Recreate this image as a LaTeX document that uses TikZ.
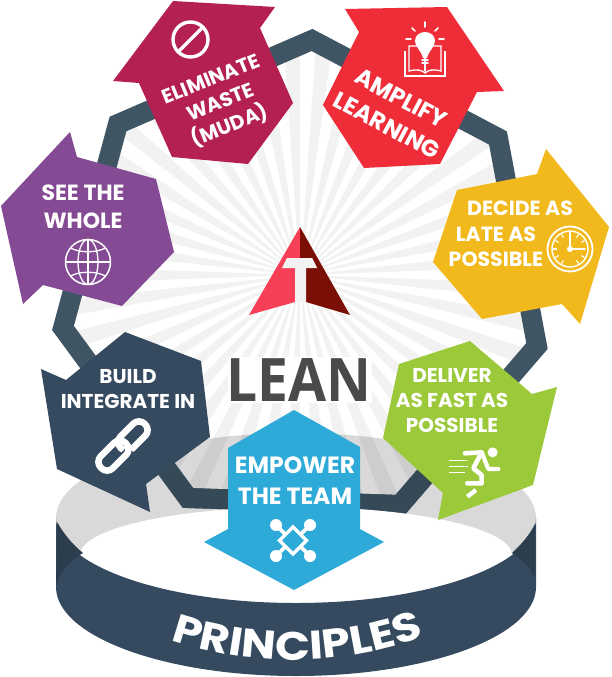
\documentclass[tikz,border=0pt]{standalone}
\usepackage{fontspec}
\usetikzlibrary{decorations.text}
\newfontfamily\popf{Poppins}
\newfontfamily\popw[FakeStretch=1.15]{Poppins}
\newfontfamily\leanf[FakeStretch=0.92]{Open Sans}
\definecolor{cCrim}{HTML}{B52052}
\definecolor{cPurp}{HTML}{844B94}
\definecolor{cRed}{HTML}{EF2D39}
\definecolor{cYel}{HTML}{F2B91C}
\definecolor{cGrn}{HTML}{9BC93A}
\definecolor{cBlu}{HTML}{2EAAD8}
\definecolor{cNavy}{HTML}{354A5E}
\definecolor{cNavyD}{HTML}{2C3D4D}
\definecolor{cRing}{HTML}{3F5564}
\definecolor{cRingD}{HTML}{364957}
\definecolor{cDisc}{HTML}{D9D9D9}
\definecolor{cLogoL}{HTML}{F73F58}
\definecolor{cLogoR}{HTML}{7B0E05}
\definecolor{cLean}{HTML}{4A4A4A}
\tikzset{
  lbl/.style={text=white,align=center,inner sep=0pt,font=\popf\bfseries\fontsize{20}{25}\selectfont},
  lbldec/.style={text=white,align=center,inner sep=0pt,font=\popf\bfseries\fontsize{20.5}{25}\selectfont},
  lblmid/.style={text=white,align=center,inner sep=0pt,font=\popf\bfseries\fontsize{20}{25}\selectfont},
  lblamp/.style={text=white,align=center,inner sep=0pt,font=\popf\bfseries\fontsize{23.5}{31}\selectfont},
  lblsee/.style={text=white,align=center,inner sep=0pt,font=\popf\bfseries\fontsize{22}{28}\selectfont},
  lblbig/.style={text=white,align=center,inner sep=0pt,font=\popf\bfseries\fontsize{23.5}{31}\selectfont},
  ico/.style={draw=white,line width=#1,line cap=round,line join=round},
  ico/.default=1.5
}
\begin{document}
\begin{tikzpicture}[x=1pt,y=-1pt]
\useasboundingbox (0,0) rectangle (611,677);
\fill[white] (0,0) rectangle (611,677);
% disc
\fill[cDisc] (296,518) ellipse [x radius=240,y radius=85];
% sunburst
\begin{scope}
\clip (118,124) -- (312,40) -- (498,138) -- (537,346) -- (400,505) -- (188,498) -- (63,328) -- cycle;
\foreach \a in {0,8,...,352}{
  \fill[black,opacity=0.05] (300,275) -- ++({\a+2}:420) -- ++({\a+92}:{420*0.07}) -- cycle;
}
\end{scope}
% ring
\draw[cRing,line width=20,line join=miter] (118,124) -- (312,40) -- (498,138) -- (537,346) -- (400,505) -- (188,498) -- (63,328) -- cycle;
\begin{scope}
\clip (296,518) ellipse [x radius=240,y radius=85];
\draw[cRingD,line width=20,line join=miter] (118,124) -- (312,40) -- (498,138) -- (537,346) -- (400,505) -- (188,498) -- (63,328) -- cycle;
\end{scope}
% white top of base
\fill[white] (296,555) ellipse [x radius=216,y radius=48];
% band
\fill[cNavy] (56,518) .. controls (56,565) and (163.5,603) .. (296,603) .. controls (428.5,603) and (536,565) .. (536,518)
  -- (536,587) .. controls (536,636) and (428.5,676) .. (296,676) .. controls (163.5,676) and (56,636) .. (56,587) -- cycle;
\fill[cNavyD] (57,522) .. controls (64,534) and (72,544) .. (83,553) .. controls (68,562) and (58,574) .. (56,587) -- cycle;
\fill[cNavyD] (535,524) .. controls (530,534) and (522,544) .. (512,553) .. controls (522,560) and (532,568) .. (535,579) -- cycle;
\path[decorate,decoration={text along path,text align=center,
   text={|\popw\bfseries\fontsize{40}{40}\selectfont\color{white}|PRINCIPLES}}]
   (150,632) .. controls (240,670) and (350,670) .. (445,628);
% arrow shapes
\fill[cCrim] (173,1) -- (275,7) -- (260,28) -- (293,103) -- (248,164) -- (172,157) -- (139,83) -- (113,81) -- cycle;
\fill[cPurp] (70,132) -- (77,157) -- (156,179) -- (174,252) -- (122,306) -- (43,285) -- (23,304) -- (1,206) -- cycle;
\fill[cRed] (345,9) -- (447,7) -- (504,91) -- (477,92) -- (440,164) -- (364,168) -- (323,105) -- (359,32) -- cycle;
\fill[cYel] (546,149) -- (609,227) -- (580,324) -- (562,304) -- (482,319) -- (433,262) -- (457,190) -- (537,174) -- cycle;
\fill[cGrn] (470,341) -- (532,394) -- (557,387) -- (533,485) -- (438,520) -- (443,493) -- (383,438) -- (399,364) -- cycle;
\fill[cBlu] (294,410) -- (360,447) -- (360,529) -- (384,542) -- (294,590) -- (204,542) -- (228,529) -- (228,448) -- cycle;
\fill[cNavy] (41,369) -- (66,380) -- (125,332) -- (201,361) -- (210,437) -- (146,484) -- (150,512) -- (57,469) -- cycle;
% logo
\fill[cLogoL] (300,227) -- (300,258) -- (287,258) -- (282,268) -- (295,268) -- (295,302) -- (249,315) -- cycle;
\fill[cLogoR] (300,227) -- (350,315) -- (306,302) -- (306,268) -- (317,268) -- (312,258) -- (300,258) -- cycle;
\fill[black!5] (287,258) -- (312,258) -- (317,268) -- (306,268) -- (306,302) -- (295,302) -- (295,268) -- (282,268) -- cycle;
% LEAN
\fill[white] (228,357) rectangle (372,403);
\node[inner sep=0pt,text=cLean,font=\leanf\bfseries\fontsize{60}{60}\selectfont] (lean) at (299,380) {LEAN};
% labels
\node[lblmid,rotate=22] (waste) at (221,104) {ELIMINATE\\WASTE\\(MUDA)};
\node[lblsee] (whole) at (83,207) {SEE THE\\WHOLE};
\node[lblamp,rotate=-28] (amplify) at (394,112) {AMPLIFY\\LEARNING};
\node[lbldec] (decide1) at (520,208) {DECIDE AS};
\node[lbldec] (decide2) at (496,246.5) {LATE AS\\POSSIBLE};
\node[lbl] (deliver) at (452,401) {DELIVER\\AS FAST AS\\POSSIBLE};
\node[lbl] (build) at (128,389) {BUILD\\INTEGRATE IN};
\node[lblbig] (empower) at (295,481) {EMPOWER\\THE TEAM};
% no-entry icon
\draw[ico=3.4] (190.5,39.5) circle (17.5);
\draw[ico=3.4,line cap=butt] (178.5,51.5) -- (202.5,27.5);
% globe
\begin{scope}[shift={(88,262)}]
\draw[ico=1.5] (0,0) circle (22.5);
\draw[ico=1.3] (0,0) ellipse [x radius=10,y radius=22.5];
\draw[ico=1.3] (0,-22.5) -- (0,22.5) (-22.5,0) -- (22.5,0);
\draw[ico=1.3] (-17.5,-14) .. controls (-8,-9) and (8,-9) .. (17.5,-14);
\draw[ico=1.3] (-17.5,14) .. controls (-8,9) and (8,9) .. (17.5,14);
\end{scope}
% bulb and book
\begin{scope}[shift={(425,42)}]
\fill[white] (0,-10) .. controls (-6,-10) and (-10,-6) .. (-10,-1) .. controls (-10,5) and (-4,8) .. (-2,16) -- (2,16) .. controls (4,8) and (10,5) .. (10,-1) .. controls (10,-6) and (6,-10) .. (0,-10) -- cycle;
\draw[ico=1.4] (-3,18) -- (3,18) (-3,21) -- (3,21) (0,16) -- (0,29);
\draw[ico=1.6] (0,-20) -- (0,-15) (-13,-14) -- (-10,-11) (13,-14) -- (10,-11) (-19,-3) -- (-14,-3) (19,-3) -- (14,-3);
\draw[ico=1.5,line cap=butt,line join=miter] (-20,9) -- (-20,34) -- (20,34) -- (20,9);
\draw[ico=1.3,line cap=butt,line join=miter] (-5,4) -- (-16,4) -- (-16,29) .. controls (-8,27) and (-3,28) .. (0,31) .. controls (3,28) and (8,27) .. (16,29) -- (16,4) -- (5,4);
\end{scope}
% clock
\begin{scope}[shift={(570,249)}]
\draw[ico=1.8] (0,0) circle (22.5);
\draw[ico=1.4] (0,0) circle (18);
\foreach \a in {30,60,120,150,180,210,240,270,300,330}{\draw[ico=1.2] (\a:16.5) -- (\a:13.5);}
\draw[ico=1.7] (0,-15) -- (0,0) -- (15,0);
\fill[white] (0,0) circle (3);
\end{scope}
% link
\begin{scope}[shift={(123,446)},rotate=45]
\draw[white,line width=6.5,rounded corners=8] (-3,-8.5) rectangle (31,8.5);
\draw[cNavy,line width=10] (3,8.5) -- (-30,8.5);
\draw[white,line width=6.5,rounded corners=8] (4,-8.5) -- (4,8.5) -- (-31,8.5) -- (-31,-8.5) -- cycle;
\end{scope}
% runner
\begin{scope}[shift={(440,440)},scale=1/3]
\fill[white] (158,37) circle (15);
\draw[ico=4.6] (75,40) -- (125,37) -- (100,85) -- (125,105) -- (125,130) -- (82,130);
\draw[ico=4.2] (125,37) -- (145,87) -- (175,87);
\draw[ico=1.6,line cap=butt] (28,62) -- (80,62) (28,80) -- (85,80) (28,98) -- (75,98);
\draw[ico=4.4,line cap=butt] (82,170) -- (108,150);
\end{scope}
% joomla
\begin{scope}[shift={(293,540)}]
\foreach \p in {(-17,-15),(17,-15),(-17,16),(17,16)}{\fill[white] \p circle (6);}
\draw[ico=3.6,line cap=butt] (-17,-15) -- (-7,-5) (17,-15) -- (7,-5) (-17,16) -- (-7,6) (17,16) -- (7,6);
\draw[ico=3.4,line join=miter] (0,-13) -- (13.5,0.5) -- (0,14) -- (-13.5,0.5) -- cycle;
\end{scope}
\end{tikzpicture}
\end{document}
